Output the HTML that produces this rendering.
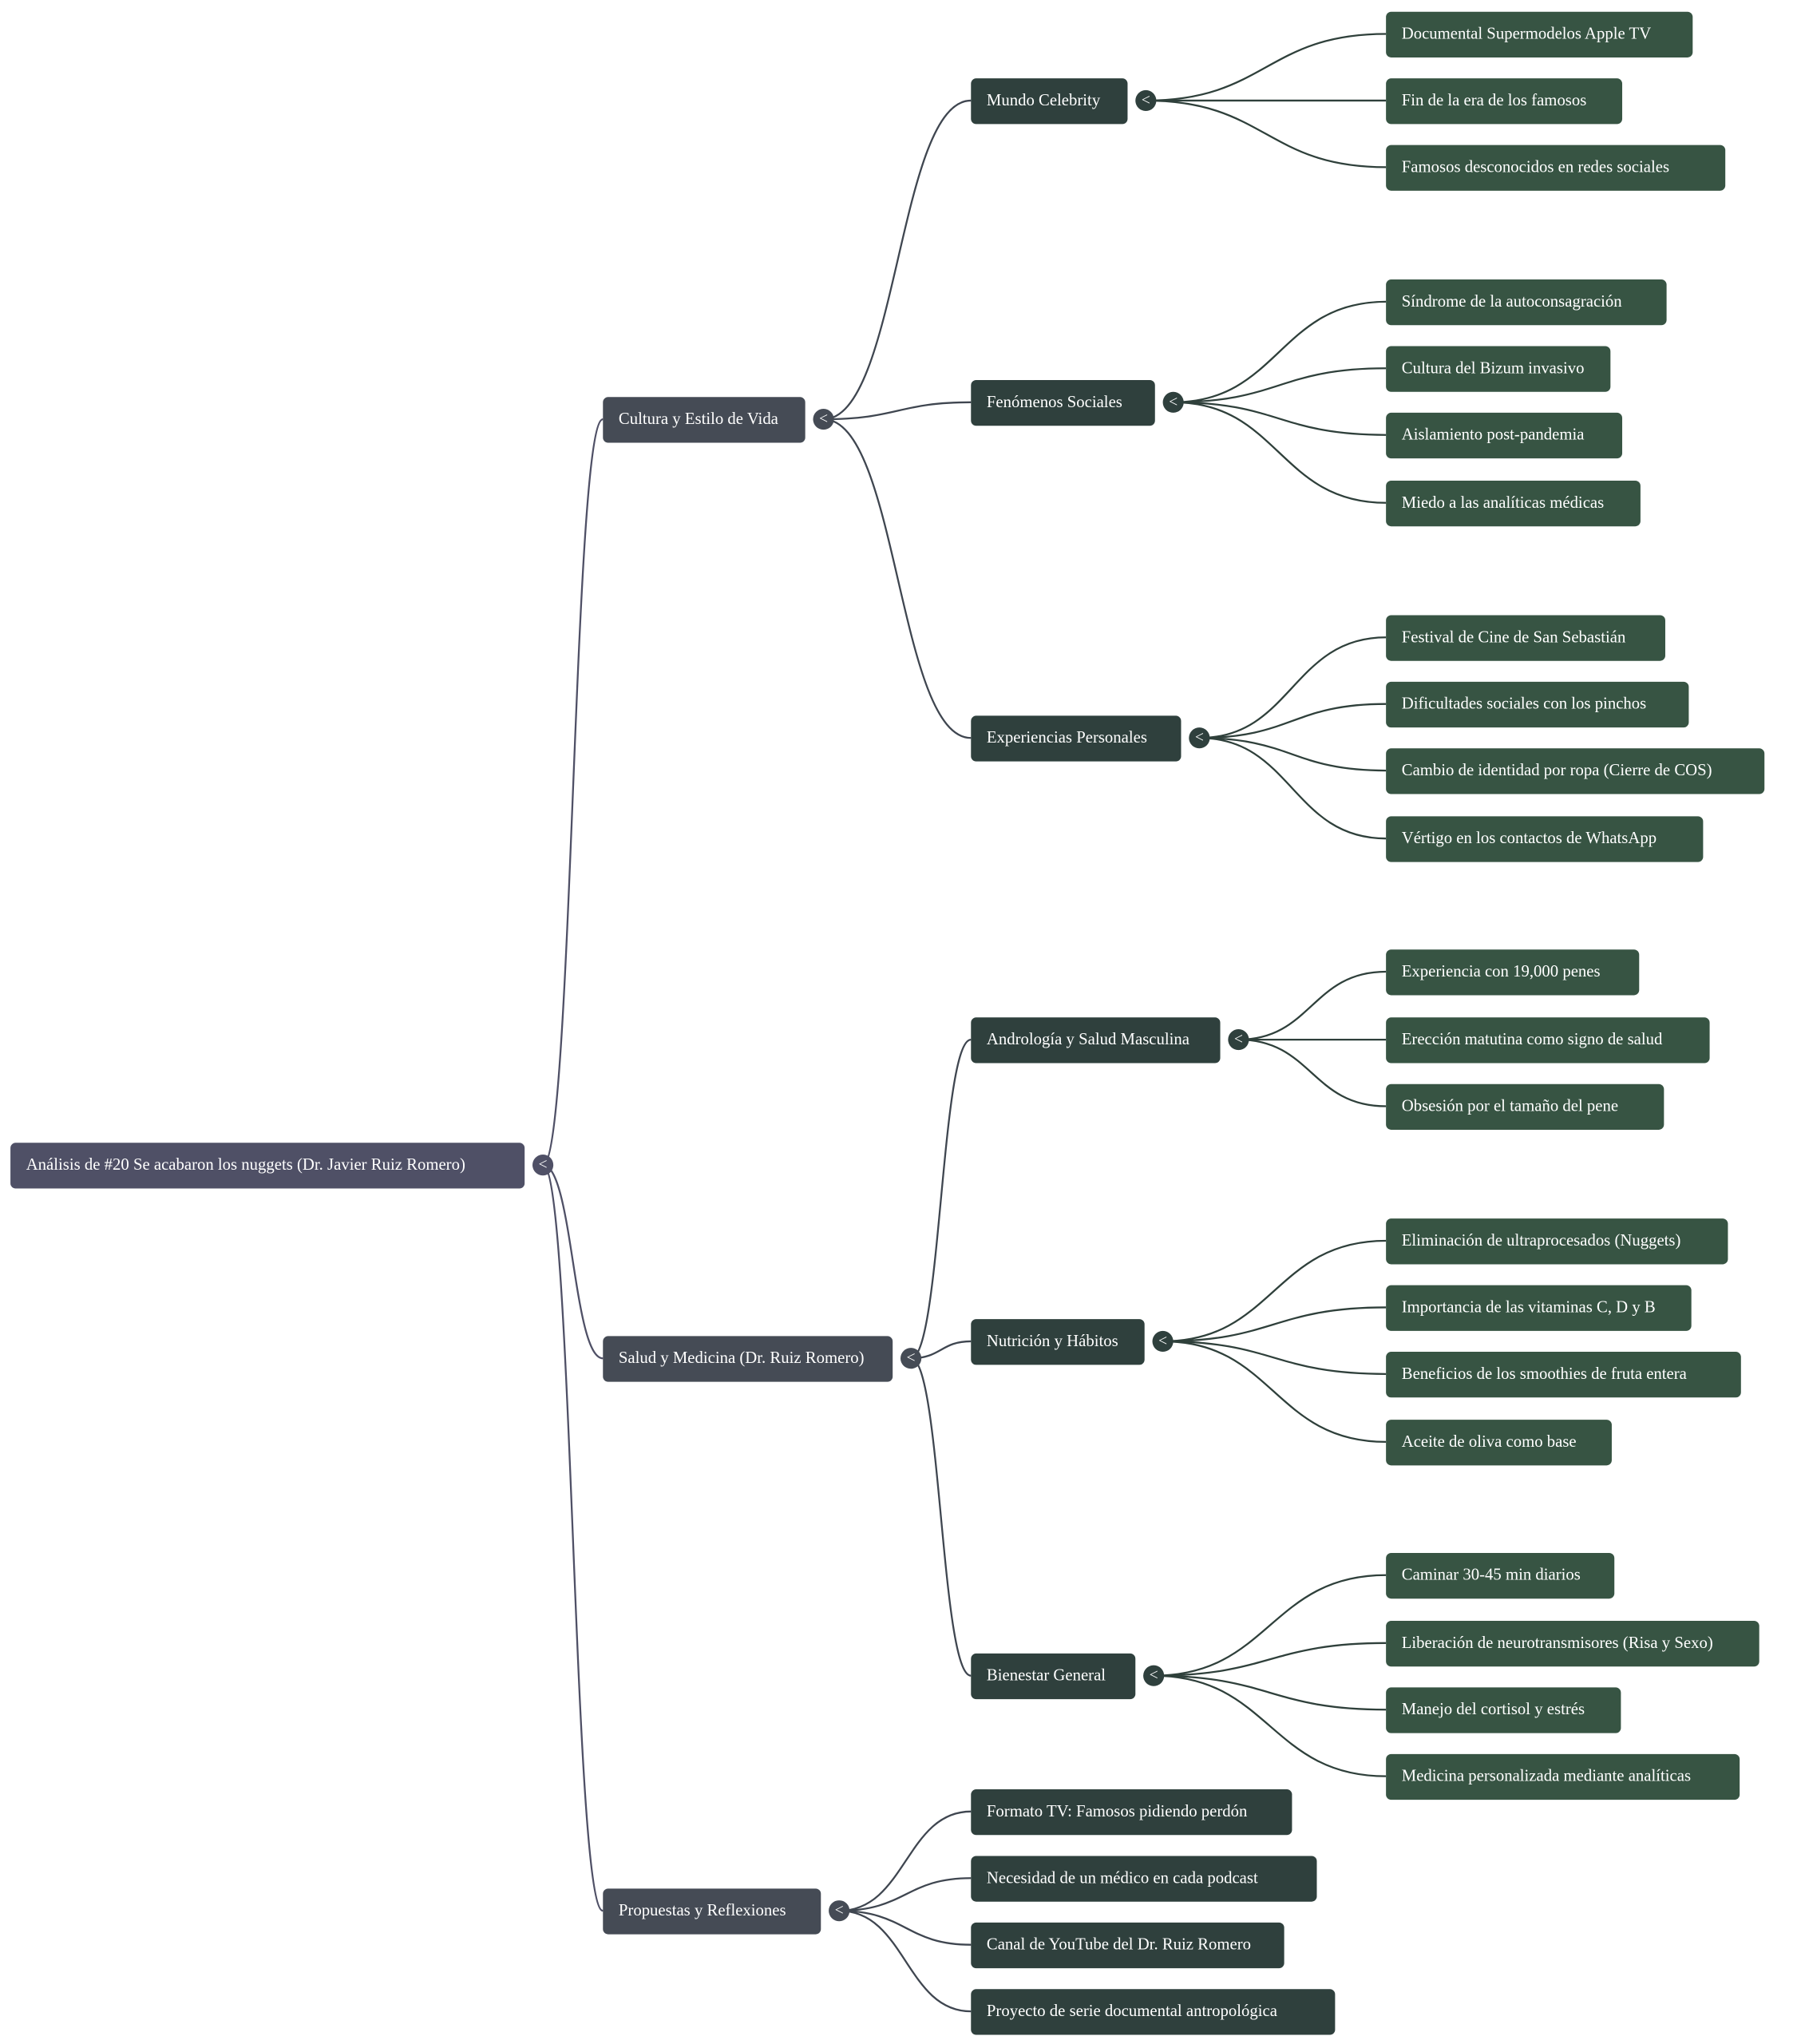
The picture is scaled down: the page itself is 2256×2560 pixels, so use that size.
<!DOCTYPE html>
<html><head><meta charset="utf-8"><style>
html,body{margin:0;padding:0;background:#fff;}
svg{display:block;}
text{font-family:"Liberation Serif",serif;font-size:12.7px;fill:#fff;dominant-baseline:central;}
.c text{font-size:12px;}
</style></head><body>
<svg width="2256" height="2560" viewBox="0 0 1380 1565" preserveAspectRatio="none" xmlns="http://www.w3.org/2000/svg">
<g fill="none" stroke-width="1.4">
<g stroke="#4f5066">
<path d="M416 892 C439 892 439 321 462 321"/>
<path d="M416 892 C439 892 439 1040 462 1040"/>
<path d="M416 892 C439 892 439 1463 462 1463"/>
</g>
<g stroke="#3f4650">
<path d="M631 321 C688 321 688 77 744 77"/>
<path d="M631 321 C688 321 688 308 744 308"/>
<path d="M631 321 C688 321 688 565 744 565"/>
<path d="M698 1040 C721 1040 721 796 744 796"/>
<path d="M698 1040 C721 1040 721 1027 744 1027"/>
<path d="M698 1040 C721 1040 721 1283 744 1283"/>
<path d="M643 1463 C694 1463 694 1387 744 1387"/>
<path d="M643 1463 C694 1463 694 1438 744 1438"/>
<path d="M643 1463 C694 1463 694 1489 744 1489"/>
<path d="M643 1463 C694 1463 694 1540 744 1540"/>
</g>
<g stroke="#2f403b">
<path d="M878 77 C970 77 970 26 1062 26"/>
<path d="M878 77 L1062 77"/>
<path d="M878 77 C970 77 970 128 1062 128"/>
<path d="M899 308 C980 308 980 231 1062 231"/>
<path d="M899 308 C980 308 980 282 1062 282"/>
<path d="M899 308 C980 308 980 333 1062 333"/>
<path d="M899 308 C980 308 980 385 1062 385"/>
<path d="M919 565 C990 565 990 488 1062 488"/>
<path d="M919 565 C990 565 990 539 1062 539"/>
<path d="M919 565 C990 565 990 590 1062 590"/>
<path d="M919 565 C990 565 990 642 1062 642"/>
<path d="M949 796 C1005 796 1005 744 1062 744"/>
<path d="M949 796 L1062 796"/>
<path d="M949 796 C1005 796 1005 847 1062 847"/>
<path d="M891 1027 C976 1027 976 950 1062 950"/>
<path d="M891 1027 C976 1027 976 1001 1062 1001"/>
<path d="M891 1027 C976 1027 976 1052 1062 1052"/>
<path d="M891 1027 C976 1027 976 1104 1062 1104"/>
<path d="M884 1283 C973 1283 973 1206 1062 1206"/>
<path d="M884 1283 C973 1283 973 1258 1062 1258"/>
<path d="M884 1283 C973 1283 973 1309 1062 1309"/>
<path d="M884 1283 C973 1283 973 1360 1062 1360"/>
</g>
</g>

<rect x="8" y="875" width="394" height="35" rx="4" fill="#4f5066"/>
<text x="20" y="892">Análisis de #20 Se acabaron los nuggets (Dr. Javier Ruiz Romero)</text>

<g fill="#454b55">
<rect x="462" y="304" width="155" height="35" rx="4"/>
<rect x="462" y="1023" width="222" height="35" rx="4"/>
<rect x="462" y="1446" width="167" height="35" rx="4"/>
</g>
<text x="474" y="321">Cultura y Estilo de Vida</text>
<text x="474" y="1040">Salud y Medicina (Dr. Ruiz Romero)</text>
<text x="474" y="1463">Propuestas y Reflexiones</text>

<g fill="#2f403d">
<rect x="744" y="60" width="120" height="35" rx="4"/>
<rect x="744" y="291" width="141" height="35" rx="4"/>
<rect x="744" y="548" width="161" height="35" rx="4"/>
<rect x="744" y="779" width="191" height="35" rx="4"/>
<rect x="744" y="1010" width="133" height="35" rx="4"/>
<rect x="744" y="1266" width="126" height="35" rx="4"/>
<rect x="744" y="1370" width="246" height="35" rx="4"/>
<rect x="744" y="1421" width="265" height="35" rx="4"/>
<rect x="744" y="1472" width="240" height="35" rx="4"/>
<rect x="744" y="1523" width="279" height="35" rx="4"/>
</g>
<text x="756" y="77">Mundo Celebrity</text>
<text x="756" y="308">Fenómenos Sociales</text>
<text x="756" y="565">Experiencias Personales</text>
<text x="756" y="796">Andrología y Salud Masculina</text>
<text x="756" y="1027">Nutrición y Hábitos</text>
<text x="756" y="1283">Bienestar General</text>
<text x="756" y="1387">Formato TV: Famosos pidiendo perdón</text>
<text x="756" y="1438">Necesidad de un médico en cada podcast</text>
<text x="756" y="1489">Canal de YouTube del Dr. Ruiz Romero</text>
<text x="756" y="1540">Proyecto de serie documental antropológica</text>

<g fill="#375443">
<rect x="1062" y="9" width="235" height="35" rx="4"/>
<rect x="1062" y="60" width="181" height="35" rx="4"/>
<rect x="1062" y="111" width="260" height="35" rx="4"/>
<rect x="1062" y="214" width="215" height="35" rx="4"/>
<rect x="1062" y="265" width="172" height="35" rx="4"/>
<rect x="1062" y="316" width="181" height="35" rx="4"/>
<rect x="1062" y="368" width="195" height="35" rx="4"/>
<rect x="1062" y="471" width="214" height="35" rx="4"/>
<rect x="1062" y="522" width="232" height="35" rx="4"/>
<rect x="1062" y="573" width="290" height="35" rx="4"/>
<rect x="1062" y="625" width="243" height="35" rx="4"/>
<rect x="1062" y="727" width="194" height="35" rx="4"/>
<rect x="1062" y="779" width="248" height="35" rx="4"/>
<rect x="1062" y="830" width="213" height="35" rx="4"/>
<rect x="1062" y="933" width="262" height="35" rx="4"/>
<rect x="1062" y="984" width="234" height="35" rx="4"/>
<rect x="1062" y="1035" width="272" height="35" rx="4"/>
<rect x="1062" y="1087" width="173" height="35" rx="4"/>
<rect x="1062" y="1189" width="175" height="35" rx="4"/>
<rect x="1062" y="1241" width="286" height="35" rx="4"/>
<rect x="1062" y="1292" width="180" height="35" rx="4"/>
<rect x="1062" y="1343" width="271" height="35" rx="4"/>
</g>
<text x="1074" y="26">Documental Supermodelos Apple TV</text>
<text x="1074" y="77">Fin de la era de los famosos</text>
<text x="1074" y="128">Famosos desconocidos en redes sociales</text>
<text x="1074" y="231">Síndrome de la autoconsagración</text>
<text x="1074" y="282">Cultura del Bizum invasivo</text>
<text x="1074" y="333">Aislamiento post-pandemia</text>
<text x="1074" y="385">Miedo a las analíticas médicas</text>
<text x="1074" y="488">Festival de Cine de San Sebastián</text>
<text x="1074" y="539">Dificultades sociales con los pinchos</text>
<text x="1074" y="590">Cambio de identidad por ropa (Cierre de COS)</text>
<text x="1074" y="642">Vértigo en los contactos de WhatsApp</text>
<text x="1074" y="744">Experiencia con 19,000 penes</text>
<text x="1074" y="796">Erección matutina como signo de salud</text>
<text x="1074" y="847">Obsesión por el tamaño del pene</text>
<text x="1074" y="950">Eliminación de ultraprocesados (Nuggets)</text>
<text x="1074" y="1001">Importancia de las vitaminas C, D y B</text>
<text x="1074" y="1052">Beneficios de los smoothies de fruta entera</text>
<text x="1074" y="1104">Aceite de oliva como base</text>
<text x="1074" y="1206">Caminar 30-45 min diarios</text>
<text x="1074" y="1258">Liberación de neurotransmisores (Risa y Sexo)</text>
<text x="1074" y="1309">Manejo del cortisol y estrés</text>
<text x="1074" y="1360">Medicina personalizada mediante analíticas</text>

<g class="c">
<circle cx="416" cy="892" r="8" fill="#4f5066"/><text x="416" y="892" text-anchor="middle">&lt;</text>
<circle cx="631" cy="321" r="8" fill="#454b55"/><text x="631" y="321" text-anchor="middle">&lt;</text>
<circle cx="698" cy="1040" r="8" fill="#454b55"/><text x="698" y="1040" text-anchor="middle">&lt;</text>
<circle cx="643" cy="1463" r="8" fill="#454b55"/><text x="643" y="1463" text-anchor="middle">&lt;</text>
<circle cx="878" cy="77" r="8" fill="#2f403d"/><text x="878" y="77" text-anchor="middle">&lt;</text>
<circle cx="899" cy="308" r="8" fill="#2f403d"/><text x="899" y="308" text-anchor="middle">&lt;</text>
<circle cx="919" cy="565" r="8" fill="#2f403d"/><text x="919" y="565" text-anchor="middle">&lt;</text>
<circle cx="949" cy="796" r="8" fill="#2f403d"/><text x="949" y="796" text-anchor="middle">&lt;</text>
<circle cx="891" cy="1027" r="8" fill="#2f403d"/><text x="891" y="1027" text-anchor="middle">&lt;</text>
<circle cx="884" cy="1283" r="8" fill="#2f403d"/><text x="884" y="1283" text-anchor="middle">&lt;</text>
</g>
</svg>
</body></html>
